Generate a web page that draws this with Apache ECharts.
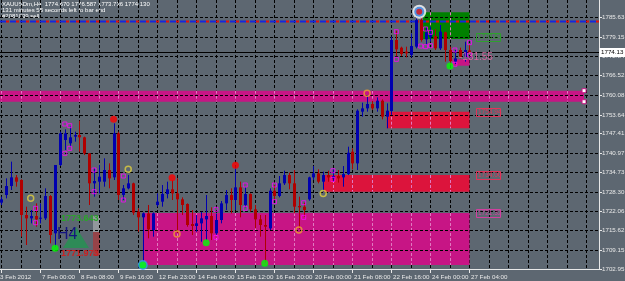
<!DOCTYPE html>
<html><head><meta charset="utf-8">
<script src="https://cdn.jsdelivr.net/npm/echarts@6/dist/echarts.min.js"></script>
<style>html,body{margin:0;padding:0;background:#5d6771;overflow:hidden}#c{width:625px;height:281px}</style>
</head><body><div id="c"></div><script>
// ---------- DATA ----------
const opens  = [1724.71,1727.22,1730.18,1733.02,1732.15,1720.67,1719.57,1720.34,1719.57,1719.57,1726.90,1714.66,1737.07,1745.28,1744.18,1746.37,1746.92,1746.15,1740.90,1731.06,1731.60,1731.60,1735.43,1733.02,1747.46,1727.22,1729.42,1731.06,1721.76,1719.90,1721.21,1715.74,1723.95,1725.04,1727.55,1729.09,1727.77,1725.81,1724.27,1717.71,1717.05,1717.93,1719.24,1720.34,1714.66,1719.02,1724.49,1727.22,1725.59,1729.74,1723.95,1727.55,1722.52,1719.24,1717.38,1716.28,1728.64,1726.90,1731.06,1733.79,1731.06,1723.62,1723.39,1725.80,1733.01,1734.33,1731.59,1733.78,1732.69,1733.45,1733.01,1734.11,1741.44,1737.61,1754.57,1755.66,1757.08,1755.66,1758.18,1752.93,1754.80,1778.09,1775.57,1774.26,1773.16,1775.90,1784.65,1778.30,1778.96,1779.40,1775.35,1780.60,1774.80,1770.98,1774.80,1772.62,1774.67];
const highs  = [1726.68,1732.69,1738.17,1733.79,1732.37,1723.40,1722.30,1724.49,1724.49,1729.42,1727.22,1737.07,1748.01,1748.78,1749.65,1748.01,1751.62,1746.37,1740.90,1735.98,1737.07,1739.26,1737.62,1750.74,1748.01,1730.51,1733.79,1731.28,1722.86,1721.50,1723.95,1721.50,1727.77,1730.51,1731.60,1732.15,1732.69,1726.46,1724.49,1722.30,1720.67,1721.76,1727.22,1723.18,1721.21,1725.26,1728.87,1729.42,1735.98,1731.60,1729.74,1727.77,1723.95,1720.67,1720.67,1729.42,1730.51,1733.46,1735.21,1734.55,1735.43,1726.68,1724.70,1733.23,1736.73,1735.64,1734.88,1735.20,1735.64,1735.42,1736.73,1743.08,1742.53,1755.33,1757.52,1760.04,1758.18,1759.27,1758.61,1757.30,1779.18,1781.15,1775.90,1775.90,1780.27,1785.20,1785.52,1782.24,1782.46,1781.59,1783.01,1780.82,1775.90,1774.80,1775.57,1777.54,1776.59];
const lows   = [1723.95,1726.13,1728.87,1729.96,1713.56,1710.82,1717.93,1716.83,1717.93,1719.02,1711.37,1710.27,1736.74,1741.99,1743.09,1744.73,1741.45,1740.35,1723.95,1726.68,1727.77,1729.96,1729.42,1732.15,1725.59,1725.59,1729.09,1720.67,1715.19,1705.50,1713.01,1713.56,1723.40,1723.40,1726.13,1725.59,1714.66,1720.67,1716.83,1714.11,1715.19,1711.91,1712.45,1712.45,1714.11,1717.93,1722.30,1721.21,1722.30,1719.90,1723.18,1721.76,1716.28,1713.56,1705.10,1715.74,1725.59,1726.46,1730.51,1729.09,1721.21,1716.10,1720.11,1725.36,1732.14,1731.05,1728.31,1731.59,1731.59,1731.30,1729.95,1733.78,1735.64,1735.42,1752.93,1754.57,1755.12,1754.57,1752.05,1749.10,1753.50,1772.83,1772.83,1772.40,1772.40,1775.35,1777.54,1776.45,1777.54,1774.80,1774.80,1770.98,1769.88,1770.21,1772.07,1770.98,1773.74];
const closes = [1725.81,1730.18,1733.02,1731.60,1720.67,1719.57,1720.34,1719.24,1719.78,1726.90,1714.11,1737.07,1747.46,1747.46,1746.15,1746.92,1746.15,1740.90,1731.06,1731.82,1733.24,1735.43,1732.69,1747.46,1727.22,1729.42,1731.06,1721.43,1719.90,1721.21,1715.96,1721.21,1725.04,1727.55,1729.09,1727.77,1725.81,1723.95,1717.38,1717.05,1717.93,1719.57,1720.34,1714.66,1719.02,1724.49,1727.22,1725.59,1729.74,1723.95,1727.55,1722.52,1719.24,1717.38,1716.83,1728.64,1726.90,1731.06,1733.79,1731.06,1723.40,1723.18,1722.29,1733.01,1734.33,1731.59,1733.78,1733.01,1733.45,1732.69,1734.11,1741.11,1737.61,1754.90,1755.66,1757.08,1755.66,1758.18,1752.93,1754.90,1778.08,1775.02,1773.49,1773.71,1776.12,1784.65,1778.09,1780.60,1780.27,1775.35,1780.82,1774.80,1771.19,1772.07,1772.62,1774.80,1774.13];

const yTickValues = [1785.63,1779.15,1772.84,1766.52,1760.08,1753.64,1747.41,1740.97,1734.73,1728.30,1722.06,1715.62,1709.15,1702.95];
const yTickLabels = ['1785.63','1779.15','1772.84','1766.52','1760.08','1753.64','1747.41','1740.97','1734.73','1728.30','1722.06','1715.62','1709.15','1702.95'];
const bidPrice = 1774.13;
const bidLabel = '1774.13';
const orderLevel = 1784.32;

const timeLabelBars = [0,8,16,24,32,40,48,56,64,72,80,88,96];
const timeLabels = ['3 Feb 2012','7 Feb 00:00','8 Feb 08:00','9 Feb 16:00','12 Feb 23:00','14 Feb 04:00','15 Feb 12:00','16 Feb 20:00','20 Feb 00:00','21 Feb 08:00','22 Feb 16:00','24 Feb 00:00','27 Feb 04:00'];
const gridBars = [0,4,8,12,16,20,24,28,32,36,40,44,48,52,56,60,64,68,72,76,80,84,88,92,96,100,104,108,112,116,120];

// zones: start bar, end bar, top price, bottom price, colour
const zoneStart  = [-0.3, 29.0, 66.0, 79.0, 86.5, 92.5];
const zoneEnd    = [119.5, 96.0, 96.0, 96.0, 96.0, 96.0];
const zoneTop    = [1761.45, 1721.32, 1733.79, 1754.56, 1787.17, 1771.75];
const zoneBottom = [1757.84, 1704.26, 1728.31, 1749.11, 1778.41, 1769.65];
const zoneColor  = ['#c71585','#c71585','#dc143c','#dc143c','#008000','#c71585'];

// zone price tags
const tagPrice = [1779.0, 1754.56, 1733.79, 1721.32];
const tagText  = ['1778.83','1754.94','1734.00','1721.32'];
const tagColor = ['#2f9f2f','#e0345a','#e0345a','#d040a0'];

// markers
const squareBars   = [7,7,13,13,14,14,19,19,25,25,44,44,50,50,56,56,62,62,68,68,81,81,86,87,87,88,88,93,93,96,96];
const squarePrices = [1722.85,1718.14,1750.52,1740.90,1749.98,1742.54,1735.43,1728.32,1733.46,1725.58,1722.52,1713.33,1730.51,1722.85,1730.51,1725.04,1724.70,1719.89,1735.2,1732.36,1780.82,1771.74,1776.1,1781.70,1775.9,1780.6,1776.23,1774.80,1770.11,1777.21,1773.16];
const yellowBars   = [6,26,66];
const yellowPrices = [1726.13,1735.65,1727.76];
const orangeBars   = [36,61,75,29];
const orangePrices = [1714.42,1715.74,1760.59,1702.9];
const redDotBars   = [23,35,48];
const redDotPrices = [1752.06,1732.91,1736.97];
const greenDotBars   = [11,42,54,92,29];
const greenDotPrices = [1709.74,1711.58,1704.82,1769.55,1704.26];
const ringBars = [29]; const ringPrices = [1704.26];
const targetBars = [85.7]; const targetPrices = [1787.37];

// ---------- CHART ----------
const X_MIN = -0.3, X_MAX = 122.57, Y_MIN = 1702.95, Y_MAX = 1791.21;
const BULL = '#0000b0', BEAR = '#b00000';
const FONT = 'Liberation Sans, Arial, sans-serif';
const chart = echarts.init(document.getElementById('c'), null, {width:625, height:281});

const ohlc = opens.map((o,i)=>[i,o,highs[i],lows[i],closes[i]]);
const pairs = (a,b)=>a.map((v,i)=>[v,b[i]]);

const option = {
  animation:false,
  backgroundColor:'#5d6771',
  grid:{left:0, top:0, width:599, height:269},
  xAxis:{type:'value', min:X_MIN, max:X_MAX, show:false},
  yAxis:{type:'value', min:Y_MIN, max:Y_MAX, show:false},
  graphic:[
    {type:'text', left:2, top:1, style:{text:'XAUUSDm,H4  1774.670 1776.587 1773.736 1774.130', fill:'#ffffff', font:'6px '+FONT}},
    {type:'text', left:2, top:7.5, style:{text:'131 minutes 55 seconds left to bar end', fill:'#ffffff', font:'6px '+FONT}},
    {type:'text', left:2, top:13, style:{text:'#2081039 sell', fill:'#ffffff', font:'6px '+FONT}},
    // H4 widget
    {type:'polygon', z:50, shape:{points:[[76,227],[63,248],[89,248]]}, style:{fill:'#2e8b57'}},
    {type:'text', z:51, left:57, top:227, style:{text:'H4', fill:'#141480', font:'16px '+FONT}},
    {type:'text', z:51, left:61, top:214, style:{text:'1773.643', fill:'#2aa52a', font:'bold 9px '+FONT}},
    {type:'text', z:51, left:61, top:249, style:{text:'1771.973', fill:'#cc2020', font:'bold 9px '+FONT}},
    {type:'group', z:51, children: Array.from({length:20},(_,k)=>({type:'line', shape:{x1:93,y1:217+k*2,x2:100,y2:217+k*2}, style:{stroke: k<8?'#c8c8c8':'#d02020', lineWidth:1}}))},
    // profit text
    {type:'text', z:52, left:459, top:52, style:{text:'-131.55', fill:'#d4649e', font:'10px '+FONT}}
  ],
  series:[
    // vertical grid
    {type:'custom', z:1, silent:true, data:gridBars.map(b=>[b,Y_MIN]),
      renderItem:(p,api)=>{const x=Math.round(api.coord([api.value(0),Y_MIN])[0])+0.5;
        return {type:'line', shape:{x1:x,y1:0,x2:x,y2:269}, style:{stroke:'#000',lineWidth:1,lineDash:[3,2]}};}},
    // zones
    {type:'custom', z:2, silent:true, data:zoneStart.map((s,i)=>[s,zoneTop[i],zoneEnd[i],zoneBottom[i],i]),
      renderItem:(p,api)=>{
        const a=api.coord([api.value(0),api.value(1)]), b=api.coord([api.value(2),api.value(3)]);
        const i=api.value(4);
        const ch=[{type:'rect', shape:{x:a[0],y:a[1],width:b[0]-a[0],height:b[1]-a[1]}, style:{fill:zoneColor[i]}}];
        gridBars.forEach(g=>{const x=Math.round(api.coord([g,Y_MIN])[0])+0.5;
          if(x>a[0]+1 && x<b[0]-1) ch.push({type:'line', shape:{x1:x,y1:a[1],x2:x,y2:b[1]}, style:{stroke:'#e07ac0',lineWidth:1,lineDash:[3,2]}});});
        if(i===0){[a[1],b[1]].forEach(yy=>ch.push({type:'rect', shape:{x:b[0]-2,y:yy-2,width:4,height:4}, style:{fill:'#ffffff',stroke:'#c71585',lineWidth:1}}));}
        return {type:'group', children:ch};
      }},
    // horizontal grid + right labels
    {type:'custom', z:3, silent:true, clip:false, data:yTickValues.map((v,i)=>[X_MIN,v,i]),
      renderItem:(p,api)=>{const y=Math.round(api.coord([X_MIN,api.value(1)])[1])+0.5;
        return {type:'group', children:[
          {type:'line', shape:{x1:0,y1:y,x2:599,y2:y}, style:{stroke:'#000',lineWidth:1,lineDash:[3,2]}},
          {type:'line', shape:{x1:599,y1:y,x2:602,y2:y}, style:{stroke:'#e8e8e8',lineWidth:1}},
          {type:'text', x:602, y:y, style:{text:yTickLabels[api.value(2)], fill:'#e8e8e8', font:'6.2px '+FONT, textVerticalAlign:'middle'}}
        ]};}},
    // axes borders + time labels
    {type:'custom', z:3, silent:true, clip:false, data:timeLabelBars.map((b,i)=>[b,Y_MIN,i]),
      renderItem:(p,api)=>{const x=Math.round(api.coord([api.value(0),Y_MIN])[0])+0.5; const i=api.value(2);
        const ch=[{type:'line', shape:{x1:x,y1:269,x2:x,y2:273}, style:{stroke:'#e8e8e8',lineWidth:1}},
          {type:'text', x: i===0?0:x+1.5, y:277, style:{text:timeLabels[i], fill:'#e8e8e8', font:'6.2px '+FONT, textVerticalAlign:'middle'}}];
        if(i===0){ch.push({type:'line', shape:{x1:0,y1:269.5,x2:599.5,y2:269.5}, style:{stroke:'#e8e8e8',lineWidth:1}});
          ch.push({type:'line', shape:{x1:599.5,y1:0,x2:599.5,y2:269.5}, style:{stroke:'#e8e8e8',lineWidth:1}});}
        return {type:'group', children:ch};}},
    // order level (red/blue dashed) and bid line
    {type:'custom', z:4, silent:true, clip:false, data:[[X_MIN,orderLevel,0],[X_MIN,bidPrice,1]],
      renderItem:(p,api)=>{const y=Math.round(api.coord([X_MIN,api.value(1)])[1])+0.5;
        if(api.value(2)===0) return {type:'group', children:[
          {type:'line', shape:{x1:0,y1:y,x2:599,y2:y}, style:{stroke:'#1428dc',lineWidth:2,lineDash:[6,4]}},
          {type:'line', shape:{x1:0,y1:y,x2:599,y2:y}, style:{stroke:'#e01010',lineWidth:2,lineDash:[3,7],lineDashOffset:-6}}]};
        return {type:'group', children:[
          {type:'line', shape:{x1:0,y1:y,x2:599,y2:y}, style:{stroke:'#000',lineWidth:1}},
          {type:'rect', shape:{x:599.5,y:y-4.5,width:26,height:9}, style:{fill:'#ffffff'}},
          {type:'text', x:601, y:y, style:{text:bidLabel, fill:'#000', font:'6.2px '+FONT, textVerticalAlign:'middle'}}]};}},
    // zone tags
    {type:'custom', z:4, silent:true, clip:false, data:tagPrice.map((v,i)=>[97.3,v,i]),
      renderItem:(p,api)=>{const c=api.coord([api.value(0),api.value(1)]); const i=api.value(2);
        const x0=Math.round(c[0])+0.5, y0=Math.round(c[1])-3.5;
        return {type:'group', children:[
          {type:'line', shape:{x1:x0,y1:y0,x2:x0+24,y2:y0}, style:{stroke:tagColor[i],lineWidth:1}},
          {type:'line', shape:{x1:x0,y1:y0+8,x2:x0+24,y2:y0+8}, style:{stroke:tagColor[i],lineWidth:1}},
          {type:'line', shape:{x1:x0,y1:y0,x2:x0,y2:y0+8}, style:{stroke:tagColor[i],lineWidth:1}},
          {type:'line', shape:{x1:x0+24,y1:y0,x2:x0+24,y2:y0+8}, style:{stroke:tagColor[i],lineWidth:1}},
          {type:'text', x:x0+1.5, y:y0+4, style:{text:tagText[i], fill:tagColor[i], font:'6.5px '+FONT, textVerticalAlign:'middle'}}]};}},
    // candles
    {type:'custom', z:5, silent:true, data:ohlc, encode:{x:0,y:[1,2,3,4]},
      renderItem:(p,api)=>{
        const x=Math.round(api.coord([api.value(0),Y_MIN])[0]);
        const o=api.value(1),h=api.value(2),l=api.value(3),c=api.value(4);
        const yo=api.coord([0,o])[1], yh=api.coord([0,h])[1], yl=api.coord([0,l])[1], yc=api.coord([0,c])[1];
        const col=c>=o?BULL:BEAR; const top=Math.min(yo,yc), bot=Math.max(yo,yc);
        return {type:'group', children:[
          {type:'line', shape:{x1:x+0.5,y1:yh,x2:x+0.5,y2:yl}, style:{stroke:col,lineWidth:1}},
          {type:'rect', shape:{x:x-1,y:top,width:3,height:Math.max(1,bot-top)}, style:{fill:col}}]};
      }},
    // markers
    {type:'scatter', z:6, silent:true, data:pairs(squareBars,squarePrices), symbol:'rect', symbolSize:4, itemStyle:{color:'transparent',borderColor:'#ff00ff',borderWidth:1}},
    {type:'scatter', z:6, silent:true, data:pairs(yellowBars,yellowPrices), symbol:'circle', symbolSize:6, itemStyle:{color:'transparent',borderColor:'#e0d040',borderWidth:1.5}},
    {type:'scatter', z:6, silent:true, data:pairs(orangeBars,orangePrices), symbol:'circle', symbolSize:6, itemStyle:{color:'transparent',borderColor:'#f0a030',borderWidth:1.5}},
    {type:'scatter', z:7, silent:true, data:pairs(ringBars,ringPrices), symbol:'circle', symbolSize:10, itemStyle:{color:'#2f9cf0'}},
    {type:'scatter', z:8, silent:true, data:pairs(greenDotBars,greenDotPrices), symbol:'circle', symbolSize:7, itemStyle:{color:'#00ff00'}},
    {type:'scatter', z:8, silent:true, data:pairs(redDotBars,redDotPrices), symbol:'circle', symbolSize:7, itemStyle:{color:'#ff0000'}},
    {type:'scatter', z:8, silent:true, data:pairs(targetBars,targetPrices), symbol:'circle', symbolSize:14, itemStyle:{color:'#ffffff'}},
    {type:'scatter', z:9, silent:true, data:pairs(targetBars,targetPrices), symbol:'circle', symbolSize:10, itemStyle:{color:'#2f7ee0'}},
    {type:'scatter', z:10, silent:true, data:pairs(targetBars,targetPrices), symbol:'circle', symbolSize:6, itemStyle:{color:'#e01010'}}
  ]
};
chart.setOption(option);
</script></body></html>
